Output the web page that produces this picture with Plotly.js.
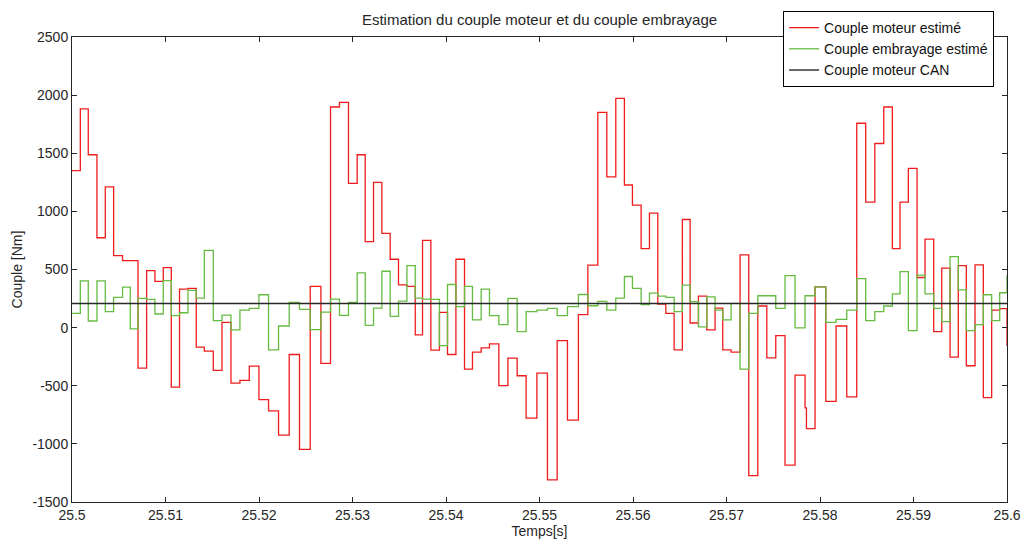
<!DOCTYPE html>
<html>
<head>
<meta charset="utf-8">
<script src="https://cdn.plot.ly/plotly-3.0.1.min.js"></script>
<style>html,body{margin:0;padding:0;background:#fff;}#chart{width:1026px;height:540px;}</style>
</head>
<body>
<div id="chart"></div>
<script>
// Sample start times (s)
const timeS = [25.5, 25.50089, 25.50174, 25.50267, 25.50356, 25.50445, 25.50541, 25.50623, 25.50706, 25.50798,
  25.50887, 25.50976, 25.51062, 25.51150, 25.51240, 25.51329, 25.51415, 25.51511, 25.51604, 25.51700,
  25.51796, 25.51896, 25.51999, 25.52102, 25.52209, 25.52323, 25.52433, 25.52548, 25.52662, 25.52765,
  25.52861, 25.52957, 25.53050, 25.53136, 25.53225, 25.53314, 25.53403, 25.53492, 25.53582, 25.53671,
  25.53749, 25.53838, 25.53930, 25.54016, 25.54106, 25.54198, 25.54283, 25.54376, 25.54465, 25.54565,
  25.54662, 25.54761, 25.54857, 25.54972, 25.55085, 25.55189, 25.55299, 25.55416, 25.55517, 25.55624,
  25.55720, 25.55816, 25.55908, 25.55994, 25.56087, 25.56176, 25.56265, 25.56351, 25.56440, 25.56528,
  25.56611, 25.56700, 25.56789, 25.56878, 25.56960, 25.57049, 25.57145, 25.57238, 25.57335, 25.57431,
  25.57527, 25.57626, 25.57733, 25.57840, 25.57855, 25.57947, 25.58062, 25.58172, 25.58286, 25.58393,
  25.58489, 25.58586, 25.58682, 25.58774, 25.58856, 25.58945, 25.59038, 25.59123, 25.59216, 25.59302,
  25.59391, 25.59479, 25.59565, 25.59658, 25.59747, 25.59836, 25.59922, 25.6];

// Couple moteur estimé (Nm)
const coupleMoteurEstime = [1350, 1881, 1487, 773, 1210, 619, 576, 576, -348, 491,
  397, 516, -511, 331, 337, -168, -203, -368, 46, -477,
  -454, -331, -619, -716, -925, -231, -1047, 354, -308, 1898,
  1938, 1241, 1487, 739, 1250, 811, 588, 368, 354, -63,
  751, -194, 131, -231, 588, -357, -211, -174, -140, -499,
  -263, -414, -779, -391, -1310, -111, -796, 111, 537, 1852,
  1296, 1972, 1227, 1053, 679, 985, 203, 123, -191, 930,
  40, 271, -20, 168, -191, -211, 625, -1273, 186, -260,
  -68, -1182, -408, -690, -868, 351, -634, 14, -596, 1758,
  1079, 1584, 1898, 679, 1079, 1370, 431, 762, -34, 511,
  -254, 534, -328, 539, -602, 151, 163, -157];

// Couple embrayage estimé (Nm)
const coupleEmbrayageEstime = [123, 402, 57, 402, 137, 260, 348, -11, 251, 243,
  117, 405, 103, 128, 320, 254, 665, 60, 108, -20,
  151, 166, 283, -191, 14, 217, 157, -17, 134, 245,
  106, 217, 471, 20, 168, 485, 97, 228, 534, 254,
  245, 243, -154, 371, 180, 354, 66, 331, 103, 26,
  251, -34, 137, 151, 166, 103, 180, 285, 188, 225,
  151, 254, 440, 337, 197, 297, 271, 260, 137, 365,
  223, 6, 265, 151, 66, 208, -357, 123, 274, 274,
  166, 448, -3, 274, 274, 351, 46, 71, 151, 422,
  60, 137, 186, 291, 482, -26, 451, 291, 166, 51,
  611, 325, -26, 26, 283, 60, 300, 450];

// Couple moteur CAN (Nm)
const canTimeS = [25.5, 25.6];
const coupleMoteurCAN = [208, 208];

// Tick labels
const xTickVals = [25.5, 25.51, 25.52, 25.53, 25.54, 25.55, 25.56, 25.57, 25.58, 25.59, 25.6];
const xTickText = ["25.5", "25.51", "25.52", "25.53", "25.54", "25.55", "25.56", "25.57", "25.58", "25.59", "25.6"];
const yTickVals = [-1500, -1000, -500, 0, 500, 1000, 1500, 2000, 2500];
const yTickText = ["-1500", "-1000", "-500", "0", "500", "1000", "1500", "2000", "2500"];

const FONT = "Liberation Sans, Arial, sans-serif";

const traces = [
  {x: timeS, y: coupleMoteurEstime, type: 'scatter', mode: 'lines', line: {shape: 'hv', color: 'rgb(240,28,28)', width: 1.3}, name: 'Couple moteur estimé'},
  {x: timeS, y: coupleEmbrayageEstime, type: 'scatter', mode: 'lines', line: {shape: 'hv', color: 'rgb(100,188,64)', width: 1.3}, name: 'Couple embrayage estimé'},
  {x: canTimeS, y: coupleMoteurCAN, type: 'scatter', mode: 'lines', line: {color: 'rgb(40,40,40)', width: 1.4}, name: 'Couple moteur CAN'}
];

const axisCommon = {
  showgrid: false, zeroline: false, showline: true, linecolor: '#262626', linewidth: 1,
  mirror: 'ticks', ticks: 'inside', ticklen: 5, tickwidth: 1, tickcolor: '#262626',
  tickfont: {family: FONT, size: 14, color: '#262626'}
};

const layout = {
  width: 1026, height: 540,
  margin: {l: 72, r: 19, t: 36, b: 38},
  paper_bgcolor: '#fff', plot_bgcolor: '#fff',
  font: {family: FONT, color: '#262626'},
  title: {text: 'Estimation du couple moteur et du couple embrayage', font: {family: FONT, size: 15, color: '#262626'}, x: 0.5, xref: 'paper', y: 0.963, yref: 'container', yanchor: 'middle'},
  xaxis: Object.assign({}, axisCommon, {
    range: [25.5, 25.6], tickmode: 'array', tickvals: xTickVals, ticktext: xTickText, ticklabelstandoff: 0,
    title: {text: 'Temps[s]', font: {family: FONT, size: 14, color: '#262626'}, standoff: 0}
  }),
  yaxis: Object.assign({}, axisCommon, {
    range: [-1500, 2500], tickmode: 'array', tickvals: yTickVals, ticktext: yTickText,
    title: {text: 'Couple [Nm]', font: {family: FONT, size: 14, color: '#262626'}, standoff: 6}
  }),
  showlegend: true,
  legend: {x: 0.7605, y: 1.0536, xanchor: 'left', yanchor: 'top', bgcolor: '#fff', bordercolor: '#000', borderwidth: 1,
    font: {family: FONT, size: 14, color: '#111'}, tracegroupgap: 0}
};

Plotly.newPlot('chart', traces, layout, {displayModeBar: false, staticPlot: true});
</script>
</body>
</html>
